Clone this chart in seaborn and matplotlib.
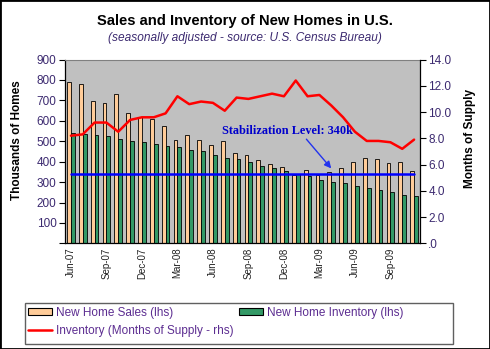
import numpy as np
import pandas as pd
import matplotlib
matplotlib.use("Agg")
import matplotlib.pyplot as plt
from matplotlib.patches import Patch, Rectangle
from matplotlib.lines import Line2D
import seaborn as sns

months = ["Jun-07", "Jul-07", "Aug-07", "Sep-07", "Oct-07", "Nov-07", "Dec-07",
          "Jan-08", "Feb-08", "Mar-08", "Apr-08", "May-08", "Jun-08", "Jul-08",
          "Aug-08", "Sep-08", "Oct-08", "Nov-08", "Dec-08", "Jan-09", "Feb-09",
          "Mar-09", "Apr-09", "May-09", "Jun-09", "Jul-09", "Aug-09", "Sep-09",
          "Oct-09", "Nov-09"]
sales = [791, 780, 697, 686, 730, 640, 620, 607, 575, 508, 529, 506, 483, 500,
         442, 433, 410, 391, 374, 333, 357, 335, 347, 371, 400, 416, 411, 392,
         400, 356]
inventory = [539, 534, 529, 524, 511, 503, 495, 485, 477, 470, 456, 451, 433,
             416, 411, 397, 377, 370, 355, 342, 330, 310, 302, 295, 281, 270,
             261, 250, 238, 233]
months_supply = [8.2, 8.3, 9.2, 9.2, 8.5, 9.4, 9.6, 9.6, 9.9, 11.2, 10.6, 10.8,
                 10.7, 10.1, 11.1, 11.0, 11.2, 11.4, 11.2, 12.4, 11.2, 11.3,
                 10.5, 9.6, 8.5, 7.8, 7.8, 7.7, 7.2, 7.9]
stabilization = 340
series_names = ["New Home Sales (lhs)", "New Home Inventory (lhs)"]
line_name = "Inventory (Months of Supply - rhs)"
left_ticks = [0, 100, 200, 300, 400, 500, 600, 700, 800, 900]
right_ticks = [0, 2, 4, 6, 8, 10, 12, 14]

SALES_C = "#FFCC99"
INV_C = "#339966"
TXT_C = "#3C2A70"
LEG_C = "#5C2D91"

sns.set_style("white")
plt.rcParams["font.family"] = ["Liberation Sans", "DejaVu Sans"]

W, H = 490, 349
fig = plt.figure(figsize=(W / 100, H / 100), dpi=100)
fig.patch.set_facecolor("white")

L, R, T, B = 65, 420, 59.5, 243.4
ax = fig.add_axes([L / W, 1 - B / H, (R - L) / W, (B - T) / H])
ax.set_facecolor("#C0C0C0")

df = pd.DataFrame({
    "month": months * 2,
    "value": sales + inventory,
    "series": [series_names[0]] * len(months) + [series_names[1]] * len(months),
})
sns.barplot(data=df, x="month", y="value", hue="series", order=months,
            hue_order=series_names, palette=[SALES_C, INV_C], width=0.64,
            edgecolor="black", linewidth=0.6, saturation=1, ax=ax, legend=False)

stab_df = pd.DataFrame({"month": months, "level": [stabilization] * len(months)})
sns.lineplot(data=stab_df, x="month", y="level", color="#0000FF", linewidth=1.8,
             ax=ax, legend=False)

ax.set_ylim(0, 900)
ax.set_xlim(-0.5, len(months) - 0.5)
ax.set_yticks(left_ticks)
ax.set_yticklabels(["" if v == 0 else str(v) for v in left_ticks],
                   fontsize=8.5, color=TXT_C)
ax.set_xticks(np.arange(-0.5, len(months), 3))
ax.set_xticklabels([])
ax.set_xticks(np.arange(0, len(months), 3), minor=True)
ax.set_xticklabels(months[::3], minor=True, rotation=90, fontsize=7,
                   color="#222222")
ax.tick_params(axis="x", which="major", direction="out", length=4, width=0.8,
               color="black")
ax.tick_params(axis="x", which="minor", length=0, pad=3)
ax.tick_params(axis="y", direction="out", length=4, width=0.8, color="black",
               pad=2, left=True)
ax.set_xlabel("")
ax.set_ylabel("")
for s in ["left", "bottom"]:
    ax.spines[s].set_color("black")
    ax.spines[s].set_linewidth(0.9)
ax.spines["top"].set_color("#808080")
ax.spines["top"].set_linewidth(0.8)
ax.spines["right"].set_visible(False)

ax2 = ax.twinx()
ms_df = pd.DataFrame({"month": months, "supply": months_supply})
sns.lineplot(data=ms_df, x="month", y="supply", color="#FF0000", linewidth=1.8,
             ax=ax2, legend=False)
ax2.set_ylim(0, 14)
ax2.set_yticks(right_ticks)
ax2.set_yticklabels([".0" if v == 0 else f"{v:.1f}" for v in right_ticks],
                    fontsize=8.5, color=TXT_C)
ax2.tick_params(axis="y", direction="out", length=4, width=0.8, color="black",
                pad=2, right=True)
ax2.set_ylabel("")
ax2.set_xlabel("")
for s in ["left", "top", "bottom"]:
    ax2.spines[s].set_visible(False)
ax2.spines["right"].set_color("black")
ax2.spines["right"].set_linewidth(0.9)
ax2.set_xlim(-0.5, len(months) - 0.5)

# annotation
ax.annotate("", xy=(22.0, 367), xycoords=ax.transData,
            xytext=(19.9, 510), textcoords=ax.transData,
            arrowprops=dict(arrowstyle="-|>", color="#2233EE", lw=1.0,
                            mutation_scale=10, shrinkA=0, shrinkB=0))
ax.text(18.3, 551, "Stabilization Level: 340k", transform=ax.transData,
        ha="center", va="center", fontsize=8.8, fontweight="bold",
        color="#0000CC", family=["Liberation Serif", "DejaVu Serif"])

# titles
fig.text(245 / W, 1 - 20.5 / H, "Sales and Inventory of New Homes in U.S.",
         ha="center", va="center", fontsize=10.6, fontweight="bold",
         color="black")
fig.text(245 / W, 1 - 38.5 / H,
         "(seasonally adjusted - source: U.S. Census Bureau)",
         ha="center", va="center", fontsize=8.6, style="italic", color=TXT_C)
fig.text(17 / W, 1 - 140 / H, "Thousands of Homes", rotation=90, ha="center",
         va="center", fontsize=8.5, fontweight="bold", color="black")
fig.text(470 / W, 1 - 138 / H, "Months of Supply", rotation=90, ha="center",
         va="center", fontsize=8.5, fontweight="bold", color="black")

# legend box
fig.patches.append(Rectangle((25 / W, 1 - 344 / H), 428 / W, 41 / H,
                             transform=fig.transFigure, fill=False,
                             edgecolor="#606060", linewidth=1.0))
h_sales = Patch(facecolor=SALES_C, edgecolor="black", linewidth=0.8)
h_inv = Patch(facecolor=INV_C, edgecolor="black", linewidth=0.8)
h_line = Line2D([], [], color="#FF0000", linewidth=1.8)
# column-major fill: col 1 = sales, line; col 2 = inventory
handles = [h_sales, h_line, h_inv]
labels = [series_names[0], line_name, series_names[1]]
leg = fig.legend(handles, labels, loc="upper left",
                 bbox_to_anchor=(28 / W, 1 - 307 / H),
                 ncol=2, fontsize=8.5, frameon=False, handlelength=2.0,
                 handleheight=0.55, handletextpad=0.35, borderpad=0,
                 labelspacing=0.5, columnspacing=0.5, borderaxespad=0)
for t in leg.get_texts():
    t.set_color(LEG_C)

fig.patches.append(Rectangle((0, 0), 1, 1, transform=fig.transFigure,
                             fill=False, edgecolor="black", linewidth=2.0))

fig.savefig("out.png", dpi=100)
